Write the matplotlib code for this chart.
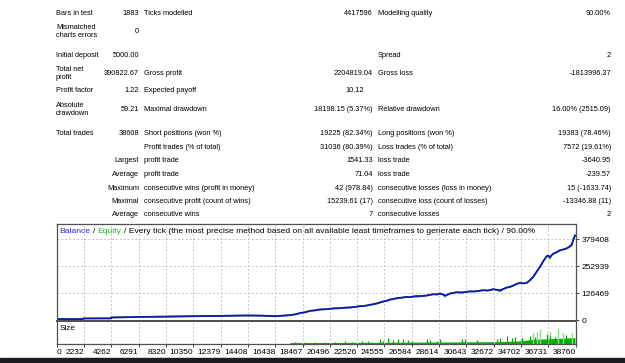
import numpy as np
import matplotlib.pyplot as plt
from matplotlib import font_manager
from matplotlib.patches import Rectangle

W, H = 625, 363

# report table -------------------------------------------------------------
left_labels = ["Bars in test", "Mismatched\ncharts errors", "Initial deposit",
               "Total net\nprofit", "Profit factor", "Absolute\ndrawdown", "Total trades"]
left_values = ["1883", "0", "5000.00", "390822.67", "1.22", "59.21", "38608"]
left_rows = [13.7, 31.3, 55.3, 73.6, 91.0, 109.5, 133.3]

prefix_labels = ["Largest", "Average", "Maximum", "Maximal", "Average"]
prefix_rows = [161.0, 174.3, 188.0, 201.3, 215.0]

mid_labels = ["Ticks modelled", "Gross profit", "Expected payoff", "Maximal drawdown",
              "Short positions (won %)", "Profit trades (% of total)", "profit trade",
              "profit trade", "consecutive wins (profit in money)",
              "consecutive profit (count of wins)", "consecutive wins"]
mid_values = ["4417596", "2204819.04", "10.12", "18198.15 (5.37%)", "19225 (82.34%)",
              "31036 (80.39%)", "1541.33", "71.04", "42 (978.84)", "15239.61 (17)", "7"]
mid_rows = [13.7, 73.6, 91.0, 109.5, 133.3, 147.3, 161.0, 174.3, 188.0, 201.3, 215.0]

right_labels = ["Modelling quality", "Spread", "Gross loss", "Relative drawdown",
                "Long positions (won %)", "Loss trades (% of total)", "loss trade",
                "loss trade", "consecutive losses (loss in money)",
                "consecutive loss (count of losses)", "consecutive losses"]
right_values = ["90.00%", "2", "-1813996.37", "16.00% (2515.09)", "19383 (78.46%)",
                "7572 (19.61%)", "-3640.95", "-239.57", "15 (-1633.74)",
                "-13346.88 (11)", "2"]
right_rows = [13.7, 55.3, 73.6, 109.5, 133.3, 147.3, 161.0, 174.3, 188.0, 201.3, 215.0]

# chart data --------------------------------------------------------------
balance_trades = [0, 1960, 2000, 4060, 4090, 6070, 8100, 10180, 12200, 14290,
                  15330, 16300, 16900, 17420, 17800, 18170, 18550, 18920, 19300, 19660,
                  20030, 20410, 20780, 21160, 21530, 21900, 22270, 22650, 22900, 23150,
                  23500, 23900, 24150, 24390, 24640, 24890, 25140, 25390, 25760, 26140,
                  26380, 26630, 26880, 27130, 27380, 27630, 27870, 28120, 28370, 28620,
                  28800, 29000, 29200, 29370, 29620, 29870, 30250, 30620, 30860, 31110,
                  31500, 31860, 32200, 32600, 32850, 33110, 33350, 33610, 33850, 34100,
                  34350, 34600, 34850, 35100, 35350, 35590, 35850, 36090, 36350, 36590,
                  36700, 36840, 36960, 37090, 37300, 37590, 37800, 38090, 38300, 38460,
                  38600, 38710]
balance_values = [5000, 5000, 8000, 8500, 12500, 15000, 16500, 18500, 20000, 22000,
                  21000, 18500, 21000, 23500, 27000, 33000, 37000, 43600, 46000, 50000,
                  51000, 53100, 55500, 56200, 58500, 59300, 62000, 65600, 66000, 68700,
                  73000, 78100, 83000, 87400, 91000, 96800, 99000, 103000, 105500, 109300,
                  108000, 110900, 113500, 112400, 114000, 115500, 118500, 121800, 120500, 124900,
                  122000, 115500, 120000, 124900, 127500, 131100, 129500, 132700, 135000, 134300,
                  137000, 140500, 139000, 145200, 142500, 140500, 146000, 153000, 156000, 162400,
                  170000, 174800, 172500, 174800, 188000, 203000, 228000, 250000, 278000, 300000,
                  303000, 296000, 305000, 312000, 318000, 328000, 331000, 337000, 345000, 356000,
                  380000, 398000]
# equity dips below balance (trade -> equity value)
equity_dips = {26880: 109000, 29000: 111000, 33110: 135000, 36840: 289000, 38460: 349000}

size_base_trades = [0, 17400, 17420, 25000, 33000, 34800, 35500, 36600, 38700]
size_base_lots = [0, 0, 1.2, 1.5, 2.0, 2.8, 4.0, 4.5, 5.5]
size_spike_trades = [17800, 18540, 19290, 20040, 20780, 21530, 22050, 22780, 23250,
                     24140, 24370, 24740, 25110, 25490, 25840, 26240, 26510, 27650,
                     27880, 28380, 28620, 30250, 30490, 31370, 32860, 33110, 33610,
                     33980, 34230, 34730, 35350, 35720, 36590, 36840, 37200, 38000]
size_spike_lots = [1.5, 1.8, 1.6, 2.0, 1.8, 2.2, 2.0, 2.9, 2.5, 4.0, 3.0, 5.0, 3.5,
                   4.5, 4.0, 3.5, 3.0, 4.0, 3.5, 3.0, 4.0, 4.0, 4.5, 3.5, 4.5, 5.0,
                   7.0, 5.0, 6.0, 5.0, 7.0, 6.0, 8.0, 7.0, 6.5, 7.5]
size_light_trades = [35570, 35870, 36090, 36590, 36840, 37410, 37830, 38460]
size_light_lots = [9.5, 10.7, 12.8, 9.6, 10.7, 13.6, 10.0, 9.5]

x_labels = ["0", "2232", "4262", "6291", "8320", "10350", "12379", "14408", "16438",
            "18467", "20496", "22526", "24555", "26584", "28614", "30643", "32672",
            "34702", "36731", "38760"]
y_ticks = [0, 126469, 252939, 379408]

title_parts = [("Balance", "#2a2ac8"), ("/", "black"), ("Equity", "#22bb22"),
               ("/ Every tick (the most precise method based on all available least "
                "timeframes to generate each tick) / 90.00%", "black")]

names = {f.name for f in font_manager.fontManager.ttflist}
FONT = "Liberation Sans" if "Liberation Sans" in names else "DejaVu Sans"
plt.rcParams["font.family"] = FONT

fig = plt.figure(figsize=(W / 100, H / 100), dpi=100)
fig.patch.set_facecolor("white")


def put(x, y, s, ha="left", size=5.35, color="black"):
    fig.text(x / W, 1 - y / H, s, ha=ha, va="center", fontsize=size, color=color,
             linespacing=1.15)


for lab, val, y in zip(left_labels, left_values, left_rows):
    put(56, y, lab)
    put(139, y, val, ha="right")
for lab, y in zip(prefix_labels, prefix_rows):
    put(139, y, lab, ha="right")
for lab, val, y in zip(mid_labels, mid_values, mid_rows):
    put(144, y, lab)
    put(364 if lab == "Expected payoff" else 373, y, val, ha="right")
for lab, val, y in zip(right_labels, right_values, right_rows):
    put(378, y, lab)
    put(611, y, val, ha="right")

# chart panels
left, right, top, mid, bottom = 56.7, 575.7, 224.3, 321.0, 344.0
ax = fig.add_axes([left / W, 1 - mid / H, (right - left) / W, (mid - top) / H])
ax2 = fig.add_axes([left / W, 1 - bottom / H, (right - left) / W, (bottom - mid) / H])

xmax = float(x_labels[-1])
xt = np.linspace(0, xmax, len(x_labels))

equity_values = [equity_dips.get(t, v) for t, v in zip(balance_trades, balance_values)]
ax.plot(balance_trades, equity_values, color="#22bb22", lw=1.2)
ax.plot(balance_trades, balance_values, color="#1414b4", lw=1.3)
ax.set_xlim(0, xmax)
ax.set_ylim(-4000, 450000)
ax.set_xticks(xt)
ax.tick_params(axis="x", length=0, labelbottom=False)
ax.yaxis.tick_right()
ax.set_yticks(y_ticks)
ax.set_yticklabels([str(v) for v in y_ticks])
ax.tick_params(axis="y", length=2.5, width=0.7, pad=1.5, labelsize=6, color="#404040")
ax.grid(color="#c4c4c4", linestyle=(0, (2, 2)), linewidth=0.7)

ax2.fill_between(size_base_trades, size_base_lots, color="#00b400", lw=0)
ax2.vlines(size_light_trades, 0, size_light_lots, color="#8ed88e", lw=1.0)
ax2.vlines(size_spike_trades, 0, size_spike_lots, color="#00aa00", lw=0.9)
ax2.set_xlim(0, xmax)
ax2.set_ylim(0, 20)
ax2.set_yticks([])
ax2.set_xticks(xt)
ax2.set_xticklabels(x_labels)
ax2.tick_params(axis="x", length=2.5, width=0.7, pad=1, labelsize=6, color="#404040")
for lbl in ax2.get_xticklabels()[1:]:
    lbl.set_ha("right")
for lbl in ax2.get_xticklabels()[:1]:
    lbl.set_ha("left")
ax2.grid(axis="x", color="#c4c4c4", linestyle=(0, (2, 2)), linewidth=0.7)

for a in (ax, ax2):
    for sp in a.spines.values():
        sp.set_color("#505050")
        sp.set_linewidth(0.9)
ax.spines["bottom"].set_linewidth(1.4)
ax2.spines["top"].set_linewidth(1.4)

ax2.text(0.005, 0.68, "Size", transform=ax2.transAxes, fontsize=5.9, va="center")

# multi-coloured title inside the main panel
renderer = fig.canvas.get_renderer()
kw = dict(fontsize=6.1, va="center")
t1 = fig.text(0, 0, "x x", **kw)
t2 = fig.text(0, 0, "xx", **kw)
gap = t1.get_window_extent(renderer).width - t2.get_window_extent(renderer).width
t1.remove()
t2.remove()
x = 59.5
for s, c in title_parts:
    t = fig.text(x / W, 1 - 231.7 / H, s, color=c, **kw)
    x += t.get_window_extent(renderer).width + gap

# dark desktop strip at the very bottom of the screenshot
fig.patches.append(Rectangle((0, 0), 1, 5 / H, transform=fig.transFigure,
                             color="#1e1b22", zorder=-1))

fig.savefig("out.png", dpi=100)
